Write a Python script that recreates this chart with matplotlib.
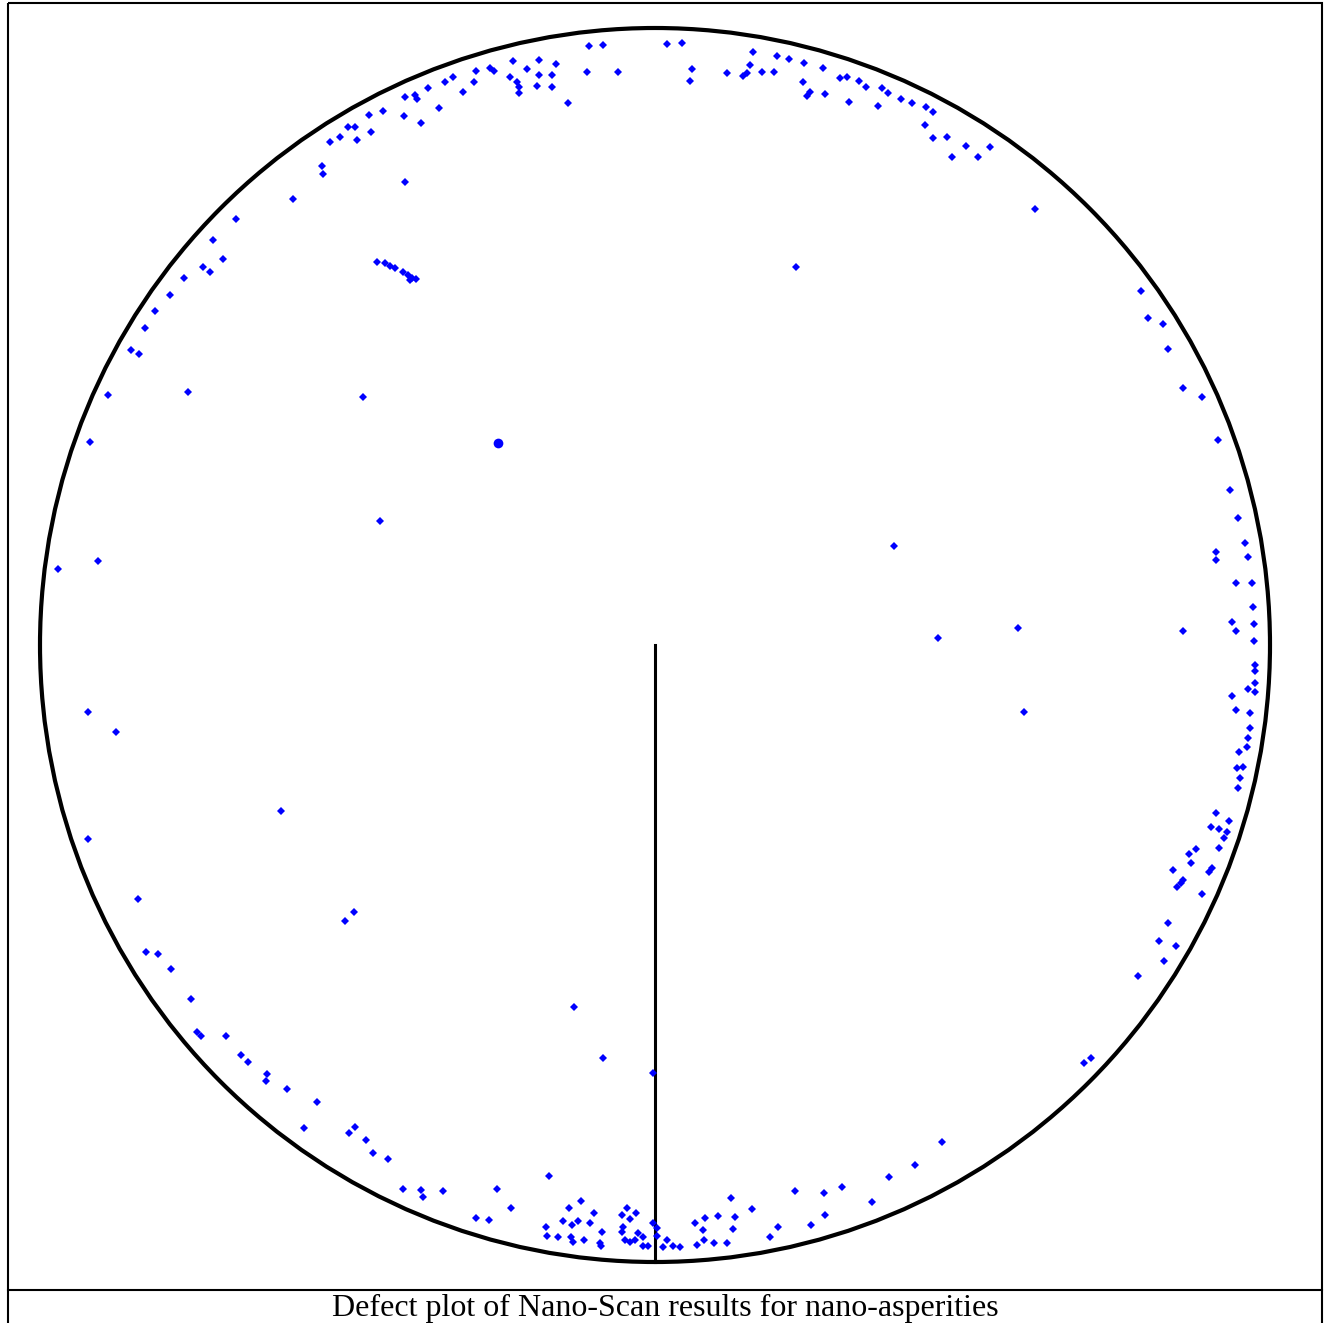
import matplotlib
matplotlib.use('Agg')
import matplotlib.pyplot as plt
from matplotlib.patches import Ellipse, Rectangle

# defect positions, scanner image coordinates (x right, y down)
defect_x = [
    589, 603, 667, 682, 692, 690, 587, 618, 513, 539, 556, 527, 539, 552, 510, 517, 519, 519,
    537, 552, 568, 476, 490, 494, 453, 445, 474, 463, 428, 415, 417, 405, 439, 421, 404, 383,
    369, 371, 348, 355, 340, 357, 330, 322, 323, 405,
    753, 727, 750, 747, 743, 762, 774, 777, 789, 804, 823, 803, 810, 807, 825, 840, 847, 859,
    866, 882, 888, 849, 878, 901, 912, 926, 933, 925, 933, 947, 952, 966, 978, 990, 1035,
    293, 236, 213, 223, 203, 210, 184, 170, 155, 145, 131, 139, 108, 188, 363, 90, 380, 58, 98,
    377, 385, 390, 395, 403, 408, 412, 416, 410,
    796, 894, 938, 1018, 1024, 574, 603, 653,
    1141, 1148, 1163, 1168, 1183, 1202, 1218, 1230, 1238, 1245, 1248, 1216, 1216, 1236, 1252,
    1253, 1232, 1236, 1183, 1254, 1254, 1255, 1255, 1255, 1248, 1255, 1232,
    1236, 1250, 1250, 1248, 1247, 1239, 1237, 1243, 1240, 1238, 1216, 1229, 1211, 1219, 1227,
    1224, 1219, 1196, 1189, 1191, 1173, 1212, 1209, 1183, 1181, 1177, 1202, 1168, 1159, 1176,
    1164, 1138, 1091, 1084,
    88, 116, 281, 88, 138, 345, 354, 146, 158, 171, 191, 197, 201, 226, 241, 248, 267, 266,
    287, 317, 304, 349, 355, 366, 373, 388, 403, 421, 443, 423,
    549, 497, 511, 476, 489, 581, 569, 594, 563, 578, 590, 572, 546, 547, 558, 571, 573, 584,
    602, 600, 601, 622, 627, 636, 630, 623, 622, 625, 630, 635, 638, 643, 643, 648, 653, 657,
    657, 667, 663, 673, 680, 695, 705, 703, 704, 697, 714, 718, 731, 735, 733, 727, 752, 778, 770,
    942, 915, 889, 842, 824, 795, 872, 825, 811,
]
defect_y = [
    46, 45, 44, 43, 69, 81, 72, 72, 61, 60, 64, 69, 75, 75, 77, 82, 87, 93,
    86, 87, 103, 71, 68, 71, 77, 82, 82, 92, 88, 95, 99, 97, 108, 123, 116, 111,
    115, 132, 127, 127, 137, 140, 142, 166, 174, 182,
    52, 73, 65, 73, 76, 72, 72, 56, 59, 63, 68, 82, 92, 96, 94, 78, 77, 81,
    87, 88, 93, 102, 106, 99, 103, 107, 112, 125, 138, 137, 157, 146, 157, 147, 209,
    199, 219, 240, 259, 267, 272, 278, 295, 311, 328, 350, 354, 395, 392, 397, 442, 521, 569, 561,
    262, 263, 266, 268, 272, 275, 278, 279, 280,
    267, 546, 638, 628, 712, 1007, 1058, 1073,
    291, 318, 324, 349, 388, 397, 440, 490, 518, 543, 557, 552, 560, 583, 583,
    607, 622, 631, 631, 624, 641, 665, 671, 683, 689, 692, 696,
    710, 713, 728, 738, 747, 752, 768, 767, 778, 788, 813, 821, 827, 829, 832,
    838, 848, 849, 854, 863, 870, 868, 872, 880, 883, 887, 894, 923, 941, 946,
    961, 976, 1058, 1063,
    712, 732, 811, 839, 899, 921, 912, 952, 954, 969, 999, 1032, 1036, 1036, 1055, 1062, 1074, 1081,
    1089, 1102, 1128, 1133, 1127, 1140, 1153, 1159, 1189, 1190, 1191, 1197,
    1176, 1189, 1208, 1218, 1220, 1201, 1208, 1213, 1221, 1221, 1223, 1225, 1227, 1236, 1237, 1237, 1242, 1240,
    1232, 1243, 1246, 1215, 1208, 1213, 1219, 1227, 1232, 1240, 1242, 1240, 1233, 1237, 1246, 1246, 1223, 1228,
    1236, 1240, 1247, 1246, 1247, 1223, 1218, 1230, 1240, 1245, 1243, 1216, 1198, 1217, 1229, 1243, 1209, 1227, 1237,
    1142, 1165, 1177, 1187, 1193, 1191, 1202, 1215, 1225,
]
# one larger particle
big_x = [498]
big_y = [443]

# wafer outline and reference notch line
wafer_center = (655, 645)
wafer_size = (1230, 1234)
caption = "Defect plot of Nano-Scan results for nano-asperities"

fig = plt.figure(figsize=(13.25, 13.23), dpi=100)
ax = fig.add_axes([0, 0, 1, 1])
ax.set_xlim(0, 1325)
ax.set_ylim(1323, 0)
ax.axis('off')

ax.add_patch(Ellipse(wafer_center, wafer_size[0], wafer_size[1],
                     fill=False, edgecolor='black', lw=3))
ax.plot([wafer_center[0], wafer_center[0]],
        [wafer_center[1], wafer_center[1] + wafer_size[1] / 2], color='black', lw=2.2)

ax.plot(defect_x, defect_y, 'D', color='#0000ff', ms=3.8, mew=0, linestyle='none')
ax.plot(big_x, big_y, 'o', color='#0000ff', ms=7, mew=0, linestyle='none')

# figure frame with caption box
ax.add_patch(Rectangle((8, 3), 1314, 1322, fill=False, edgecolor='black', lw=1.5))
ax.plot([8, 1322], [1290, 1290], color='black', lw=1.5)
ax.text(665, 1308, caption, ha='center', va='center', fontsize=23,
        family=['Liberation Serif', 'DejaVu Serif'])

fig.savefig('out.png', dpi=100)
